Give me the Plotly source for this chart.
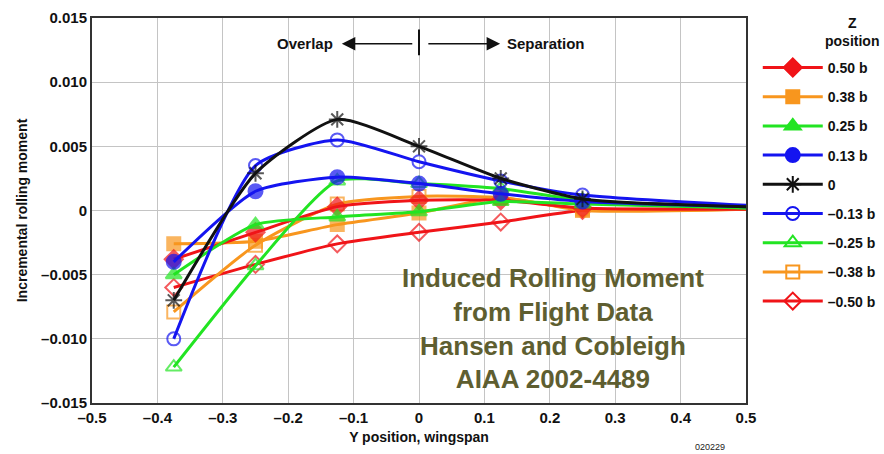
import plotly.graph_objects as go

# ---- data ----
y_pos = [-0.375, -0.25, -0.125, 0.0, 0.125, 0.25, 0.5]
z_labels = ["0.50 b", "0.38 b", "0.25 b", "0.13 b", "0",
            "\u20130.13 b", "\u20130.25 b", "\u20130.38 b", "\u20130.50 b"]
m_p050 = [-0.0038, -0.0017, 0.0003, 0.0008, 0.0008, 0.0002, 0.0001]
m_p038 = [-0.0026, -0.0024, -0.0011, -0.0002, 0.0010, 0.0000, 0.0001]
m_p025 = [-0.0050, -0.0011, -0.0005, -0.0001, 0.0007, 0.0005, 0.0002]
m_p013 = [-0.0040, 0.0015, 0.0026, 0.0021, 0.0013, 0.0007, 0.0003]
m_0 = [-0.0070, 0.0029, 0.0071, 0.0050, 0.0025, 0.0009, 0.0003]
m_m013 = [-0.0100, 0.0035, 0.0055, 0.0038, 0.0023, 0.0012, 0.0004]
m_m025 = [-0.0122, -0.0043, 0.0023, 0.0021, 0.0017, 0.0008, 0.0002]
m_m038 = [-0.0079, -0.0027, 0.0005, 0.0011, 0.0010, 0.0001, 0.0001]
m_m050 = [-0.0060, -0.0042, -0.0026, -0.0017, -0.0009, 0.0000, 0.0001]
series = [m_p050, m_p038, m_p025, m_p013, m_0, m_m013, m_m025, m_m038, m_m050]

x_ticks = [-0.5, -0.4, -0.3, -0.2, -0.1, 0, 0.1, 0.2, 0.3, 0.4, 0.5]
x_ticktext = ["\u20130.5", "\u20130.4", "\u20130.3", "\u20130.2", "\u20130.1", "0",
              "0.1", "0.2", "0.3", "0.4", "0.5"]
y_ticks = [-0.015, -0.010, -0.005, 0, 0.005, 0.010, 0.015]
y_ticktext = ["\u20130.015", "\u20130.010", "\u20130.005", "0", "0.005", "0.010", "0.015"]

# ---- styles ----
RED, ORANGE, GREEN, BLUE, BLACK = "#f01418", "#f8961e", "#22e422", "#1414f0", "#111111"
colors = [RED, ORANGE, GREEN, BLUE, BLACK, BLUE, GREEN, ORANGE, RED]
symbols = ["diamond", "square", "triangle-up", "circle", "asterisk-open",
           "circle-open", "triangle-up-open", "square-open", "diamond-open"]
msizes = [14, 13, 14, 14, 14, 13, 14, 13, 13]

FONT = "Liberation Sans, Arial, Helvetica, sans-serif"

fig = go.Figure()

# curves (drawn bottom-up so black/blue sit on top)
order = [8, 7, 1, 0, 2, 6, 3, 5, 4]
for i in order:
    n = len(y_pos)
    sizes = [msizes[i]] * (n - 1) + [0]
    fig.add_trace(go.Scatter(
        x=y_pos, y=series[i], mode="lines+markers",
        line=dict(color=colors[i], width=3, shape="spline", smoothing=0.6),
        marker=dict(symbol=symbols[i], size=sizes, color=colors[i],
                    line=dict(color=colors[i], width=2)),
        showlegend=False, hoverinfo="skip"))

# legend entries
for i in range(9):
    fig.add_trace(go.Scatter(
        x=[None], y=[None], mode="lines+markers", name=z_labels[i],
        legendgroup="g%d" % i, legendrank=i + 1,
        line=dict(color=colors[i], width=3),
        marker=dict(symbol=symbols[i], size=msizes[i], color=colors[i],
                    line=dict(color=colors[i], width=2))))

axis_common = dict(showgrid=True, gridcolor="#c4c4c4", gridwidth=1,
                   showline=True, linecolor="#333333", linewidth=2, mirror=True,
                   zeroline=False, ticks="",
                   tickfont=dict(family=FONT, size=15, color="#111", weight="bold"))

fig.update_xaxes(range=[-0.5, 0.5], tickvals=x_ticks, ticktext=x_ticktext,
                 title=dict(text="Y position, wingspan", standoff=7,
                            font=dict(family=FONT, size=14, color="#111", weight="bold")),
                 **axis_common)
fig.update_yaxes(range=[-0.015, 0.015], tickvals=y_ticks, ticktext=y_ticktext,
                 title=dict(text="Incremental rolling moment", standoff=10,
                            font=dict(family=FONT, size=14, color="#111", weight="bold")),
                 **axis_common)

# Overlap / Separation marker
fig.add_shape(type="line", x0=0, x1=0, y0=0.0121, y1=0.0141,
              line=dict(color="#111", width=2))
fig.add_annotation(x=-0.118, y=0.013, ax=-0.008, ay=0.013, axref="x", ayref="y",
                   xref="x", yref="y", text="", showarrow=True,
                   arrowhead=2, arrowsize=1.8, arrowwidth=1.5, arrowcolor="#111")
fig.add_annotation(x=0.124, y=0.013, ax=0.012, ay=0.013, axref="x", ayref="y",
                   xref="x", yref="y", text="", showarrow=True,
                   arrowhead=2, arrowsize=1.8, arrowwidth=1.5, arrowcolor="#111")
fig.add_annotation(x=-0.174, y=0.013, xref="x", yref="y", text="Overlap",
                   showarrow=False,
                   font=dict(family=FONT, size=15, color="#111", weight="bold"))
fig.add_annotation(x=0.194, y=0.013, xref="x", yref="y", text="Separation",
                   showarrow=False,
                   font=dict(family=FONT, size=15, color="#111", weight="bold"))

# source note
fig.add_annotation(x=0.205, y=-0.0092, xref="x", yref="y",
                   text="Induced Rolling Moment<br>from Flight Data<br>Hansen and Cobleigh<br>AIAA 2002-4489",
                   showarrow=False, align="center",
                   font=dict(family=FONT, size=26, color="#5e5e30", weight="bold"))

# small code label and legend heading (pixel positions -> paper units)
fig.add_annotation(x=(710 - 92) / 654, y=(403 - 447) / 385, xref="paper", yref="paper",
                   text="020229", showarrow=False, xanchor="center", yanchor="middle",
                   font=dict(family=FONT, size=9, color="#222"))
fig.add_annotation(x=(852 - 92) / 654, y=(403 - 32) / 385, xref="paper", yref="paper",
                   text="Z<br>position", showarrow=False, xanchor="center", yanchor="middle",
                   align="center",
                   font=dict(family=FONT, size=14, color="#111", weight="bold"))

fig.update_layout(
    width=884, height=454,
    margin=dict(l=92, r=138, t=18, b=51, autoexpand=False),
    paper_bgcolor="white", plot_bgcolor="white",
    font=dict(family=FONT, color="#111"),
    legend=dict(x=1.018, xanchor="left", y=0.912, yanchor="top",
                font=dict(family=FONT, size=14, color="#111", weight="bold"),
                itemwidth=60, tracegroupgap=8, bgcolor="rgba(0,0,0,0)"),
)

fig.write_html("out.html")
